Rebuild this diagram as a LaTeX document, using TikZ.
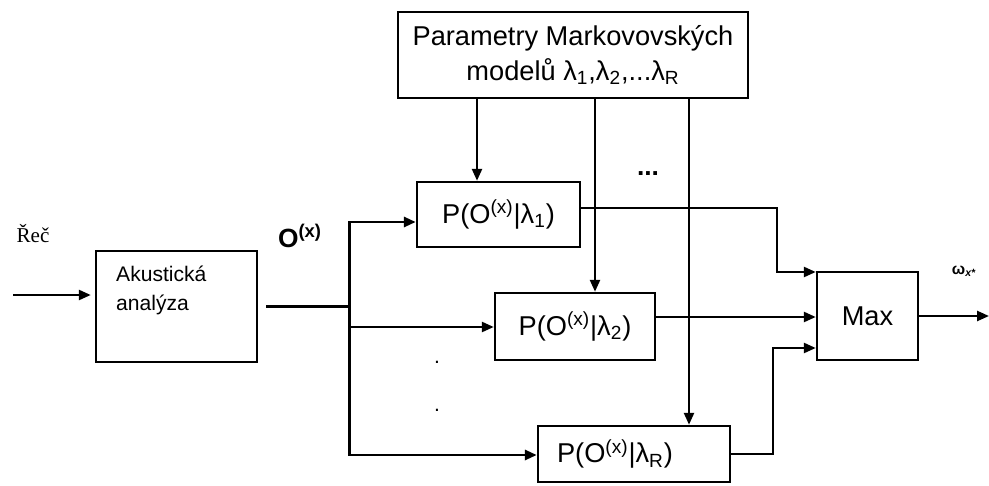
\documentclass[tikz,border=0pt]{standalone}
\usepackage{fontspec}
\setmainfont{Liberation Sans}
\newfontfamily\rectimes{Liberation Serif}
\usetikzlibrary{positioning, arrows.meta}

\begin{document}
\begin{tikzpicture}[
    x=0.02cm, y=-0.02cm,
    >={Triangle[length=0.24cm, width=0.2cm]},
    line width=1.4pt,
    % Styl pro bloky
    blok/.style={draw, inner sep=0pt, align=center, font=\fontsize{15.5}{20}\selectfont},
    popis/.style={inner sep=0pt, font=\fontsize{12}{16.5}\selectfont, align=left}
]
    \useasboundingbox (0,0) rectangle (989,486);

    % Bloky
    \node[blok, minimum width=7cm, minimum height=1.72cm] (param) at (573,55)
        {Parametry Markovovských\\modelů λ\textsubscript{1},λ\textsubscript{2},...λ\textsubscript{R}};
    \node[blok, minimum width=3.22cm, minimum height=2.22cm] (ak) at (176.5,306.5) {};
    \node[popis, anchor=north west] (akt) at (115,265) {Akustická\\analýza};
    \node[blok, minimum width=3.26cm, minimum height=1.3cm] (p1) at (498.5,214.5)
        {P(O\textsuperscript{(x)}|λ\textsubscript{1})};
    \node[blok, minimum width=3.2cm, minimum height=1.34cm] (p2) at (575,326.5)
        {P(O\textsuperscript{(x)}|λ\textsubscript{2})};
    \node[blok, minimum height=1.12cm, text width=3.08cm, inner xsep=0.38cm, align=left] (pR) at (634,454)
        {P(O\textsuperscript{(x)}|λ\textsubscript{R})};
    \node[blok, minimum width=2.02cm, minimum height=1.76cm] (max) at (867.5,316) {Max};

    % Popisky
    \node[popis, font=\rectimes\fontsize{12}{14}\selectfont] (rec) at (33,234) {Řeč};
    \node[popis, font=\fontsize{15}{18}\selectfont\bfseries] (obs) at (300,236) {O\textsuperscript{(x)}};
    \node[popis, font=\fontsize{9}{11}\selectfont\bfseries] (omega) at (964,271) {ω\textsubscript{\itshape x*}};
    \node[popis, font=\fontsize{15}{18}\selectfont\bfseries] (tecky) at (648,174) {...};
    \node[popis, font=\fontsize{12}{14}\selectfont] (t1) at (437,362) {.};
    \node[popis, font=\fontsize{12}{14}\selectfont] (t2) at (437,410) {.};

    % Pomocne body
    \coordinate (vstup) at (13,295);
    \coordinate (tr1) at (349,222);
    \coordinate (tr2) at (349,327);
    \coordinate (trR) at (349,455);
    \coordinate (l1) at (477,0);
    \coordinate (l2) at (595,0);
    \coordinate (lR) at (689,0);
    \coordinate (j1) at (777,272);
    \coordinate (jR) at (773,348);
    \coordinate (vystup) at (989,0);

    % Spoje
    \draw[->, shorten >=0.08cm] (vstup) -- (vstup -| ak.west);
    \draw[shorten <=0.16cm] (ak.east) -- (ak.east -| tr1);
    \draw[<->, line width=1.7pt] (tr1 -| p1.west) -- (tr1) -- (trR) -- (trR -| pR.west);
    \draw[->] (tr2) -- (tr2 -| p2.west);

    \draw[->] (param.south -| l1) -- (p1.north -| l1);
    \draw[->] (param.south -| l2) -- (p2.north -| l2);
    \draw[->] (param.south -| lR) -- (pR.north -| lR);

    \draw[->] ([yshift=0.13cm]p1.east) -| (j1) -- (j1 -| max.west);
    \draw[->] ([yshift=0.19cm]p2.east) -- ([yshift=0.19cm]p2.east -| max.west);
    \draw[->] (pR.east) -| (jR) -- (jR -| max.west);
    \draw[->] (max.east) -- (max.east -| vystup);

\end{tikzpicture}
\end{document}
